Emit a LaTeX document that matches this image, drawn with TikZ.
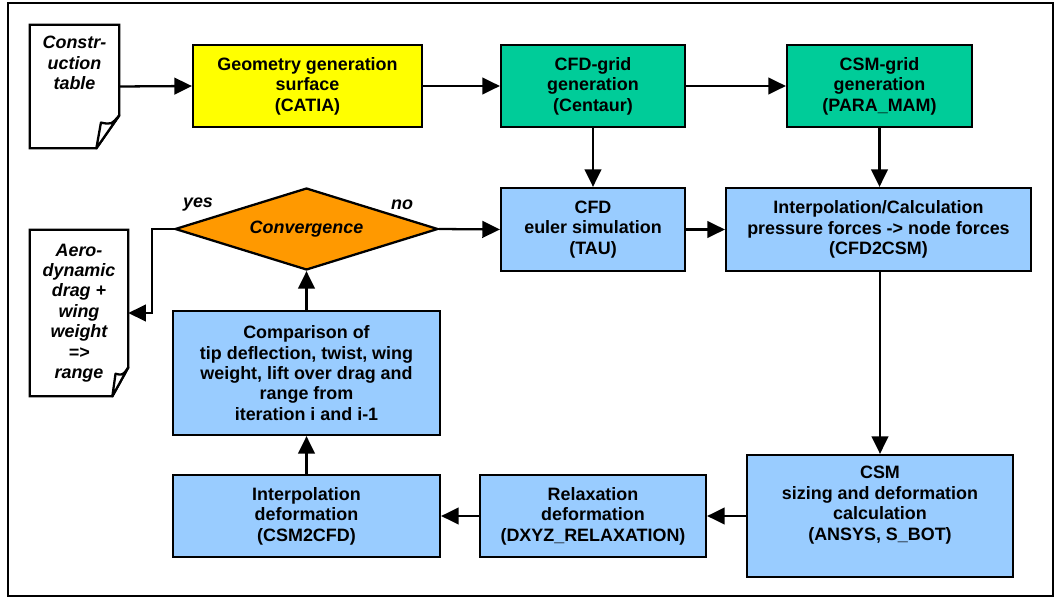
\documentclass[tikz,border=0pt]{standalone}
\usepackage{fontspec}
\setmainfont{Liberation Sans}
\usepackage{xcolor}
\usepackage{tikz}
\usetikzlibrary{arrows.meta,positioning,shapes.geometric,calc}
\definecolor{geo_yellow}{RGB}{255,255,0}
\definecolor{grid_green}{RGB}{0,204,153}
\definecolor{step_blue}{RGB}{153,204,255}
\definecolor{conv_orange}{RGB}{255,153,0}

% page with a curled corner round an empty node
\newcommand{\docpage}[3]{%
  \draw[line width=1.3pt, line join=miter]
    (#1.north west) -- (#1.north east) -- ($(#1.south east)+(0,-#3)$)
    -- ($(#1.south east)+(-#2,0)$) -- (#1.south west) -- cycle;
  \draw[line width=1.3pt, fill=white, line join=round]
    ($(#1.south east)+(0,-#3)$)
    .. controls ($(#1.south east)+(-0.35*#2,-0.72*#3)$) .. ($(#1.south east)+(-0.8*#2,-0.78*#3)$)
    -- ($(#1.south east)+(-#2,0)$) -- cycle;}

\begin{document}
\begin{tikzpicture}[x=0.02cm, y=-0.02cm,
    font=\fontsize{10.2}{11.6}\selectfont\bfseries,
    box/.style={draw, line width=1.3pt, align=center, inner sep=2pt},
    doc/.style={minimum width=#1, inner sep=0pt},
    doctext/.style={align=center, font=\fontsize{10.2}{11.6}\selectfont\bfseries\itshape},
    flow/.style={-{Triangle[length=10pt,width=9.5pt]}, line width=1.3pt}]
  \useasboundingbox (0,0) rectangle (1055,598);
  \draw[line width=1pt] (8,3) rectangle (1053,596);

  % input page
  \node[doc=1.78cm, minimum height=2.46cm] (constr) at (74.5,86.5) {};
  \docpage{constr}{23}{33}
  \node[doctext, below=3pt of constr.north] (constrtxt) {Constr-\\uction\\table};

  % top row
  \node[box, fill=geo_yellow, minimum width=4.58cm, minimum height=1.64cm] (geo) at (307.5,86)
    {Geometry generation\\surface\\(CATIA)};
  \node[box, fill=grid_green, minimum width=3.68cm, minimum height=1.64cm] (cfdgrid) at (593,86)
    {CFD-grid\\generation\\(Centaur)};
  \node[box, fill=grid_green, minimum width=3.7cm, minimum height=1.64cm] (csmgrid) at (879.5,86)
    {CSM-grid\\generation\\(PARA\_MAM)};

  % second row
  \node[box, fill=step_blue, minimum width=3.68cm, minimum height=1.66cm] (euler) at (593,229.5)
    {CFD\\euler simulation\\(TAU)};
  \node[box, fill=step_blue, minimum width=6.1cm, minimum height=1.66cm] (interpcalc) at (878.5,229.5)
    {Interpolation/Calculation\\pressure forces -> node forces\\(CFD2CSM)};
  \node[draw, diamond, line width=1.3pt, fill=conv_orange, inner sep=0pt, aspect=3.2,
    minimum width=5.26cm, minimum height=1.64cm, font=\fontsize{10.2}{11.6}\selectfont\bfseries\itshape]
    (conv) at (306.5,229) {Convergence};
  \node[doctext] (yes) at (198,205) {yes};
  \node[doctext] (no) at (402,205) {no};

  % output page
  \node[doc=1.96cm, minimum height=3.32cm, doctext] (aero) at (79,313)
    {Aero-\\dynamic\\drag +\\wing\\weight\\=>\\range};
  \docpage{aero}{16}{29}

  % loop back
  \node[box, fill=step_blue, minimum width=5.34cm, minimum height=2.48cm] (compare) at (306.5,373)
    {Comparison of\\tip deflection, twist, wing\\weight, lift over drag and\\range from\\iteration i and i-1};
  \node[box, fill=step_blue, minimum width=5.34cm, minimum height=1.64cm] (interpdef) at (306.5,516)
    {Interpolation\\deformation\\(CSM2CFD)};
  \node[box, fill=step_blue, minimum width=4.52cm, minimum height=1.64cm] (relax) at (593,516)
    {Relaxation\\deformation\\(DXYZ\_RELAXATION)};
  \node[box, fill=step_blue, minimum width=5.32cm, minimum height=2.44cm] (csm) at (880,516)
    {CSM\\sizing and deformation\\calculation\\(ANSYS, S\_BOT)\\[3pt]};

  % connectors
  \coordinate (yesbend) at (152,229);
  \draw[flow] (constr.east) -- (geo.west);
  \draw[flow] (geo.east) -- (cfdgrid.west);
  \draw[flow] (cfdgrid.east) -- (csmgrid.west);
  \draw[flow] (cfdgrid.south) -- (euler.north);
  \draw[flow] (csmgrid.south) -- (csmgrid.south |- interpcalc.north);
  \draw[flow] (euler.east) -- (interpcalc.west);
  \draw[flow] (conv.east) -- (euler.west);
  \draw[flow] (interpcalc.south -| csm.north) -- (csm.north);
  \draw[flow] (csm.west) -- (relax.east);
  \draw[flow] (relax.west) -- (interpdef.east);
  \draw[flow] (interpdef.north) -- (compare.south);
  \draw[flow] (compare.north) -- (conv.south);
  \draw[flow] (conv.west) -- (yesbend) |- (aero.east);
\end{tikzpicture}
\end{document}
